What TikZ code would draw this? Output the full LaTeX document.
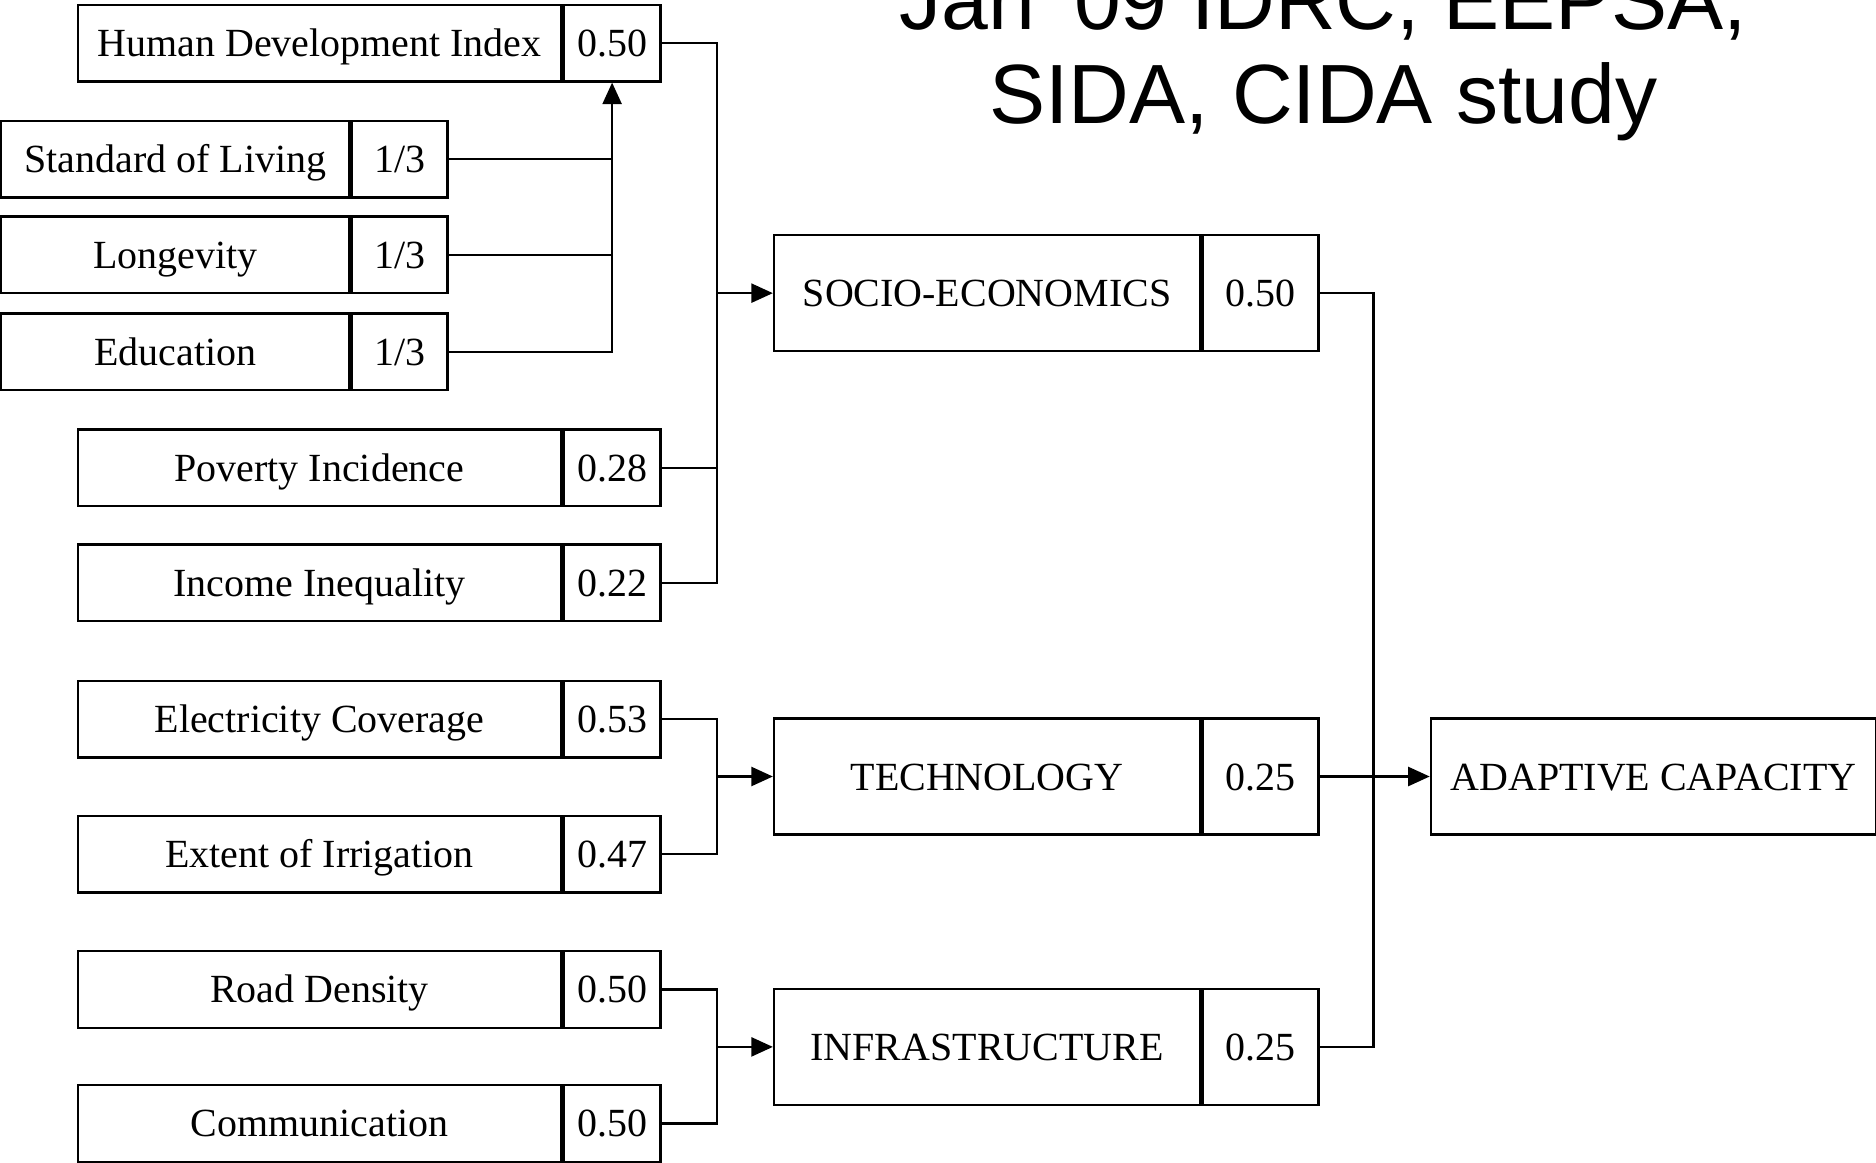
\documentclass[tikz,border=0pt]{standalone}
\usepackage{fontspec}
\setmainfont{Liberation Serif}
\newfontfamily\titlefont{Liberation Sans}
\usetikzlibrary{arrows.meta,positioning}
\tikzset{
  item/.style={draw=black, line width=0.6pt, fill=white, inner sep=0pt, minimum height=6.4mm, minimum width=40.4mm, text height=1.4ex, text depth=0pt, font=\fontsize{9.5}{11}\selectfont},
  itemw/.style={item, minimum width=8.1mm},
  subitem/.style={item, minimum width=29.1mm},
  subitemw/.style={item, minimum width=8.0mm},
  group/.style={item, minimum height=9.7mm, minimum width=35.6mm},
  groupw/.style={group, minimum width=9.7mm},
  goal/.style={group, minimum width=37.2mm},
  line/.style={draw=black, line width=0.5pt},
  arrow/.style={line, -{Triangle[length=1.8mm, width=1.6mm]}}
}
\begin{document}
\begin{tikzpicture}
  \useasboundingbox (0,0) rectangle (15.68,-9.72);

  \node[font=\titlefont\fontsize{20}{22.2}\selectfont, align=center, anchor=base, inner sep=0pt] (title) at (11.06,-1.03) {Jan '09 IDRC, EEPSA,\\SIDA, CIDA study};

  \node[item] (hdi) at (2.67,-0.36) {Human Development Index};
  \node[itemw, right=0pt of hdi] (hdiw) {0.50};
  \node[subitem] (sol) at (1.465,-1.33) {Standard of Living};
  \node[subitemw, right=0pt of sol] (solw) {1/3};
  \node[subitem] (long) at (1.465,-2.13) {Longevity};
  \node[subitemw, right=0pt of long] (longw) {1/3};
  \node[subitem] (edu) at (1.465,-2.94) {Education};
  \node[subitemw, right=0pt of edu] (eduw) {1/3};

  \node[item] (pov) at (2.67,-3.91) {Poverty Incidence};
  \node[itemw, right=0pt of pov] (povw) {0.28};
  \node[item] (inc) at (2.67,-4.87) {Income Inequality};
  \node[itemw, right=0pt of inc] (incw) {0.22};
  \node[item] (elec) at (2.67,-6.01) {Electricity Coverage};
  \node[itemw, right=0pt of elec] (elecw) {0.53};
  \node[item] (ext) at (2.67,-7.14) {Extent of Irrigation};
  \node[itemw, right=0pt of ext] (extw) {0.47};
  \node[item] (road) at (2.67,-8.27) {Road Density};
  \node[itemw, right=0pt of road] (roadw) {0.50};
  \node[item] (comm) at (2.67,-9.39) {Communication};
  \node[itemw, right=0pt of comm] (commw) {0.50};

  \node[group] (socio) at (8.25,-2.45) {SOCIO-ECONOMICS};
  \node[groupw, right=0pt of socio] (sociow) {0.50};
  \node[group] (tech) at (8.25,-6.49) {TECHNOLOGY};
  \node[groupw, right=0pt of tech] (techw) {0.25};
  \node[group] (infra) at (8.25,-8.75) {INFRASTRUCTURE};
  \node[groupw, right=0pt of infra] (infraw) {0.25};

  \node[goal] (adapt) at (13.82,-6.49) {ADAPTIVE CAPACITY};

  \coordinate (sbus) at (5.99,-2.45);
  \coordinate (tbus) at (5.99,-6.49);
  \coordinate (ibus) at (5.99,-8.75);
  \coordinate (abus) at (11.48,-6.49);

  \draw[line] (solw.east) -- (solw.east -| hdiw.south);
  \draw[line] (longw.east) -- (longw.east -| hdiw.south);
  \draw[arrow] (eduw.east) -| (hdiw.south);

  \draw[line] (hdiw.east) -| (sbus |- incw.east) -- (incw.east);
  \draw[line] (povw.east) -- (povw.east -| sbus);
  \draw[arrow] (sbus) -- (socio.west);

  \draw[line] (elecw.east) -| (tbus) |- (extw.east);
  \draw[arrow] (tbus) -- (tech.west);
  \draw[line] (roadw.east) -| (ibus) |- (commw.east);
  \draw[arrow] (ibus) -- (infra.west);

  \draw[line] (sociow.east) -| (abus) |- (infraw.east);
  \draw[arrow] (techw.east) -- (adapt.west);
\end{tikzpicture}
\end{document}
